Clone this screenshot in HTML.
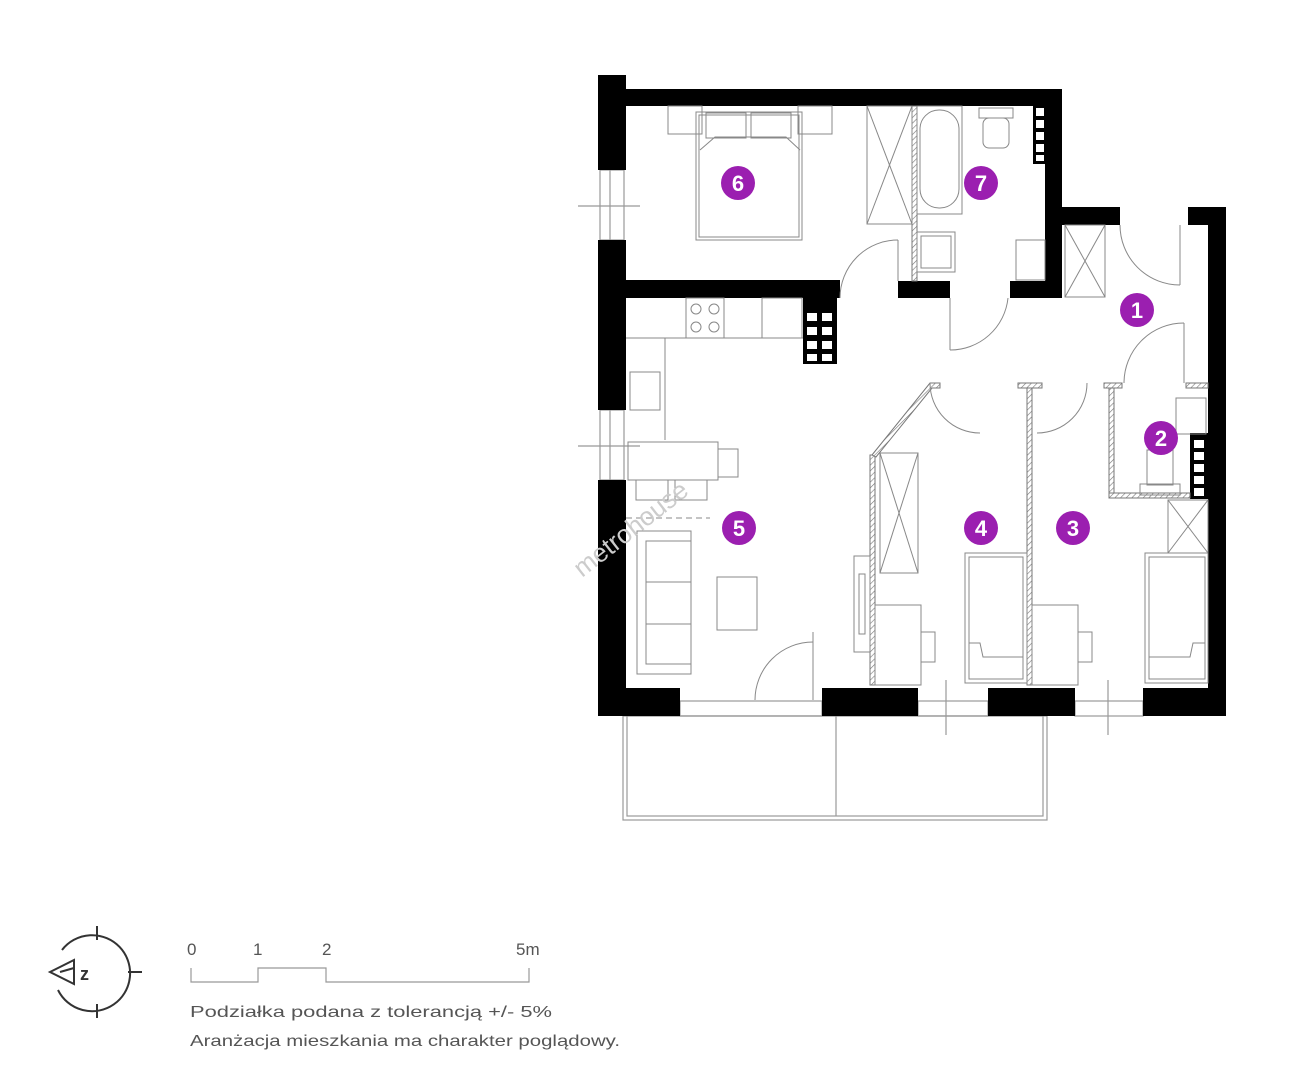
<!DOCTYPE html>
<html><head><meta charset="utf-8"><style>
html,body{margin:0;padding:0;background:#fff;}
svg{display:block}
text{font-family:"Liberation Sans",sans-serif}
</style></head><body>
<svg width="1306" height="1080" viewBox="0 0 1306 1080" xmlns="http://www.w3.org/2000/svg">
<defs>
<pattern id="h" width="4" height="4" patternUnits="userSpaceOnUse" patternTransform="rotate(45)">
<rect width="4" height="4" fill="#fff"/><line x1="0" y1="0" x2="0" y2="4" stroke="#777" stroke-width="1.2"/></pattern>
</defs>
<g fill="none" stroke="#999" stroke-width="1.2">
<rect x="623" y="716" width="424" height="104"/>
<rect x="627" y="716" width="416" height="100"/>
<line x1="836" y1="716" x2="836" y2="816"/>
<rect x="600" y="170" width="24" height="70"/>
<line x1="610" y1="170" x2="610" y2="240"/><line x1="578" y1="206" x2="640" y2="206"/>
<rect x="600" y="410" width="24" height="70"/>
<line x1="610" y1="410" x2="610" y2="480"/><line x1="578" y1="446" x2="640" y2="446"/>
<rect x="680" y="701" width="142" height="15"/>
<rect x="918" y="701" width="70" height="15"/>
<rect x="1075" y="701" width="68" height="15"/>
<line x1="946" y1="680" x2="946" y2="735"/><line x1="1108" y1="680" x2="1108" y2="735"/>
</g>
<g fill="#000">
<rect x="598" y="75" width="28" height="95"/>
<rect x="598" y="240" width="28" height="170"/>
<rect x="598" y="480" width="28" height="236"/>
<rect x="598" y="89" width="464" height="17"/>
<rect x="1045" y="89" width="17" height="193"/>
<rect x="626" y="280" width="214" height="18"/>
<rect x="898" y="281" width="52" height="17"/>
<rect x="1010" y="281" width="52" height="17"/>
<rect x="1062" y="207" width="58" height="18"/>
<rect x="1188" y="207" width="38" height="18"/>
<rect x="1208" y="207" width="18" height="509"/>
<rect x="598" y="688" width="82" height="28"/>
<rect x="822" y="688" width="96" height="28"/>
<rect x="988" y="688" width="87" height="28"/>
<rect x="1143" y="688" width="83" height="28"/>
<rect x="1033" y="104" width="14" height="60"/>
<rect x="803" y="298" width="34" height="66"/>
<rect x="1190" y="433" width="18" height="66"/>
</g>
<g fill="#fff">
<rect x="1036" y="108" width="8" height="8"/><rect x="1036" y="120" width="8" height="8"/><rect x="1036" y="132" width="8" height="8"/><rect x="1036" y="144" width="8" height="8"/><rect x="1036" y="155" width="8" height="6"/>
<rect x="807" y="313" width="10" height="8"/><rect x="822" y="313" width="10" height="8"/><rect x="807" y="327" width="10" height="8"/><rect x="822" y="327" width="10" height="8"/><rect x="807" y="341" width="10" height="8"/><rect x="822" y="341" width="10" height="8"/><rect x="807" y="354" width="10" height="7"/><rect x="822" y="354" width="10" height="7"/>
<rect x="1194" y="440" width="10" height="8"/><rect x="1194" y="452" width="10" height="8"/><rect x="1194" y="464" width="10" height="8"/><rect x="1194" y="476" width="10" height="8"/><rect x="1194" y="488" width="10" height="8"/>
</g>
<g fill="url(#h)" stroke="#777" stroke-width="1">
<rect x="912" y="106" width="5" height="175"/>
<polygon points="870,455 875,455 875,685 870,685"/>
<polygon points="872,455 930,383 940,383 940,388 932,388 876,457"/>
<rect x="1027" y="383" width="5" height="302"/>
<rect x="1018" y="383" width="24" height="5"/>
<rect x="1109" y="383" width="5" height="115"/>
<rect x="1104" y="383" width="18" height="5"/>
<rect x="1109" y="493" width="81" height="5"/>
<rect x="1186" y="383" width="22" height="5"/>
</g>
<g fill="none" stroke="#888" stroke-width="1">
<rect x="668" y="106" width="34" height="28"/><rect x="798" y="106" width="34" height="28"/>
<rect x="696" y="112" width="106" height="128"/><rect x="699" y="115" width="100" height="122"/>
<rect x="706" y="113" width="40" height="25"/><rect x="751" y="113" width="40" height="25"/>
<polyline points="700,150 715,137 786,137 800,150"/>
<rect x="867" y="106" width="45" height="118"/>
<line x1="867" y1="106" x2="912" y2="224"/><line x1="912" y1="106" x2="867" y2="224"/>
<rect x="917" y="106" width="45" height="108"/><rect x="920" y="110" width="39" height="98" rx="19"/>
<rect x="979" y="108" width="34" height="10"/><rect x="983" y="118" width="26" height="30" rx="6"/>
<rect x="917" y="232" width="38" height="40"/><rect x="921" y="236" width="30" height="32"/>
<rect x="1016" y="240" width="29" height="40"/>
<rect x="1065" y="225" width="40" height="72"/>
<line x1="1065" y1="225" x2="1105" y2="297"/><line x1="1105" y1="225" x2="1065" y2="297"/>
<path d="M840,298 A58,58 0 0 1 898,240"/><line x1="898" y1="240" x2="898" y2="281"/>
<path d="M950,350 A58,58 0 0 0 1008,298"/><line x1="950" y1="298" x2="950" y2="350"/>
<path d="M1120,225 A60,60 0 0 0 1180,285"/><line x1="1180" y1="225" x2="1180" y2="285"/>
<path d="M1124,383 A60,60 0 0 1 1184,323"/><line x1="1184" y1="323" x2="1184" y2="383"/>
<path d="M930,383 A50,50 0 0 0 980,433"/><path d="M1037,433 A50,50 0 0 0 1087,383"/>
<line x1="813" y1="632" x2="813" y2="700"/><path d="M755,700 A58,58 0 0 1 813,642"/>
<rect x="686" y="298" width="38" height="40"/>
<circle cx="696" cy="309" r="5"/><circle cx="714" cy="309" r="5"/><circle cx="696" cy="327" r="5"/><circle cx="714" cy="327" r="5"/>
<rect x="762" y="298" width="40" height="40"/>
<polyline points="626,338 665,338 665,440"/>
<line x1="665" y1="338" x2="803" y2="338"/>
<rect x="630" y="372" width="30" height="38"/>
<rect x="628" y="442" width="90" height="38"/><rect x="718" y="449" width="20" height="28"/>
<rect x="636" y="480" width="32" height="20"/><rect x="675" y="480" width="32" height="20"/>
<line x1="626" y1="518" x2="710" y2="518" stroke-dasharray="6,4"/>
<rect x="637" y="531" width="54" height="143"/><rect x="646" y="541" width="45" height="123"/>
<line x1="646" y1="582" x2="691" y2="582"/><line x1="646" y1="624" x2="691" y2="624"/>
<rect x="717" y="577" width="40" height="53"/>
<rect x="854" y="556" width="16" height="96"/><rect x="859" y="574" width="6" height="60"/>
<rect x="880" y="453" width="38" height="120"/>
<line x1="880" y1="453" x2="918" y2="573"/><line x1="918" y1="453" x2="880" y2="573"/>
<rect x="875" y="605" width="46" height="80"/><rect x="921" y="632" width="14" height="30"/>
<rect x="965" y="553" width="62" height="130"/><rect x="969" y="557" width="54" height="122"/>
<polyline points="969,643 980,643 983,657 1023,657"/>
<rect x="1032" y="605" width="46" height="80"/><rect x="1078" y="632" width="14" height="30"/>
<rect x="1145" y="553" width="63" height="130"/><rect x="1149" y="557" width="56" height="122"/>
<polyline points="1149,657 1190,657 1193,643 1205,643"/>
<rect x="1168" y="500" width="40" height="53"/>
<line x1="1168" y1="500" x2="1208" y2="553"/><line x1="1208" y1="500" x2="1168" y2="553"/>
<rect x="1176" y="398" width="30" height="36"/>
<rect x="1147" y="450" width="26" height="35"/><rect x="1140" y="484" width="40" height="11"/>
</g>
<text x="0" y="0" transform="translate(582,578) rotate(-38)" font-size="26" fill="#ccc">metrohouse</text>
<g fill="#9b1fb0">
<circle cx="738" cy="183" r="17"/><circle cx="981" cy="183" r="17"/><circle cx="1137" cy="310" r="17"/>
<circle cx="1161" cy="438" r="17"/><circle cx="739" cy="528" r="17"/><circle cx="981" cy="528" r="17"/><circle cx="1073" cy="528" r="17"/>
</g>
<g fill="#fff" font-size="22" font-weight="bold" text-anchor="middle">
<text x="738" y="191">6</text><text x="981" y="191">7</text><text x="1137" y="318">1</text>
<text x="1161" y="446">2</text><text x="739" y="536">5</text><text x="981" y="536">4</text><text x="1073" y="536">3</text>
</g>
<g fill="none" stroke="#333" stroke-width="2">
<path d="M62,950 A38,38 0 1 1 58,990"/>
<line x1="97" y1="926" x2="97" y2="940"/><line x1="97" y1="1004" x2="97" y2="1018"/><line x1="128" y1="972" x2="142" y2="972"/>
<polygon points="50,972 74,960 74,984" stroke-width="2"/><line x1="60" y1="972" x2="74" y2="968"/>
</g>
<text x="80" y="980" font-size="18" font-weight="bold" fill="#333">z</text>
<g fill="none" stroke="#999" stroke-width="1.2">
<polyline points="191,968 191,982 258,982 258,968 326,968 326,982 529,982 529,968"/>
</g>
<g fill="#555" font-size="17">
<text x="187" y="955">0</text><text x="253" y="955">1</text><text x="322" y="955">2</text><text x="516" y="955">5m</text>
<text x="190" y="1017" font-size="16" textLength="362" lengthAdjust="spacingAndGlyphs">Podziałka podana z tolerancją +/- 5%</text>
<text x="190" y="1046" font-size="16" textLength="430" lengthAdjust="spacingAndGlyphs">Aranżacja mieszkania ma charakter poglądowy.</text>
</g>
</svg>
</body></html>
